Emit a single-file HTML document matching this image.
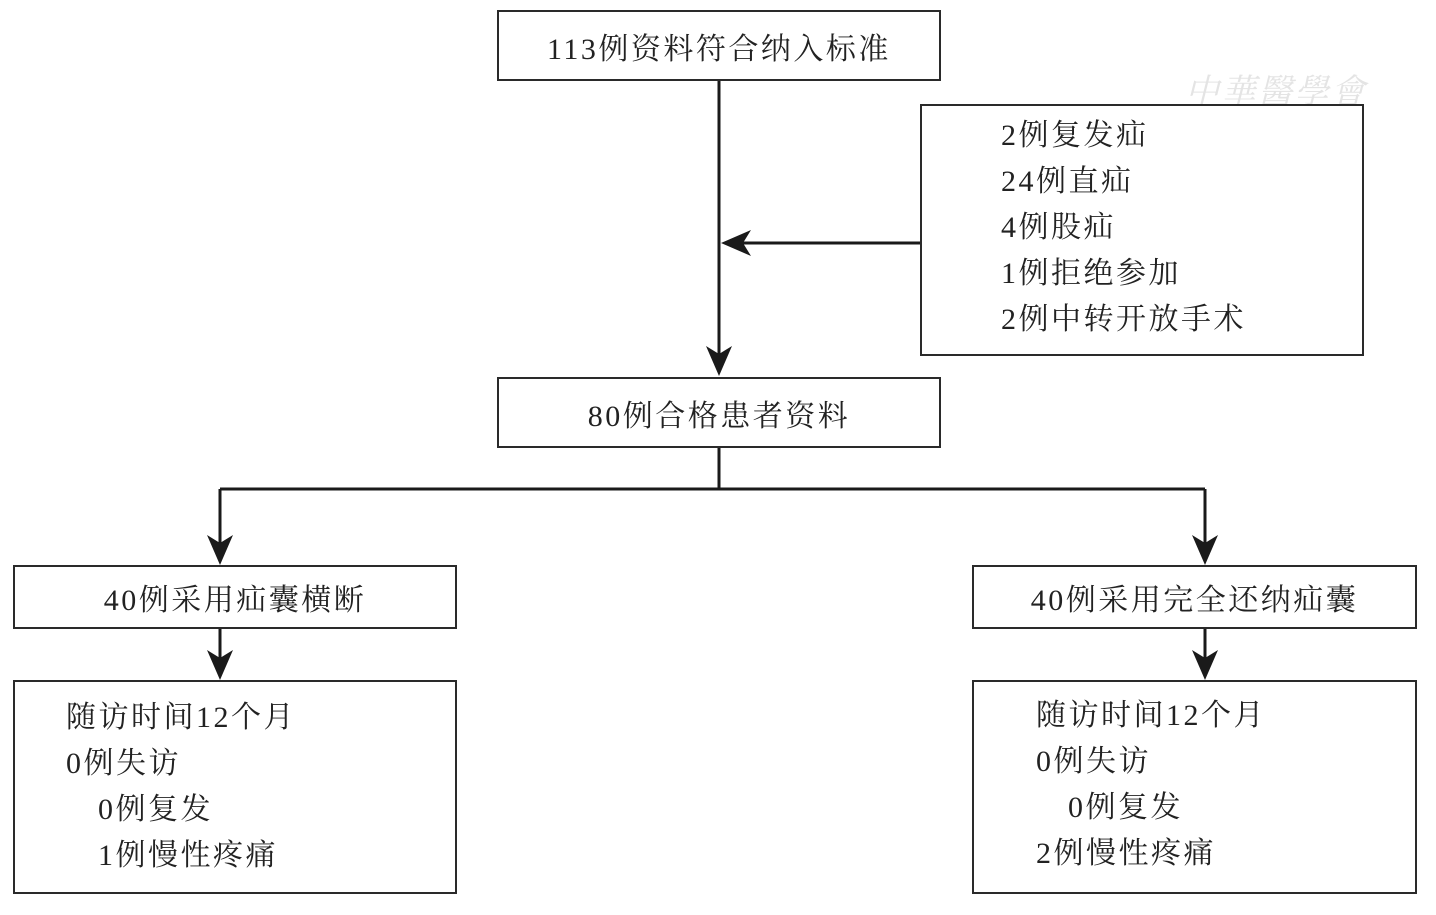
<!DOCTYPE html>
<html><head><meta charset="utf-8"><style>
body{margin:0;width:1436px;height:915px;background:#fff;position:relative;overflow:hidden;font-family:"Liberation Serif","Noto Serif CJK SC",serif;color:#222}
.b{position:absolute;border:2.5px solid #2a2a2a;box-sizing:border-box}
.c{display:flex;align-items:center;justify-content:center;font-size:30px;letter-spacing:2.5px}
.t{position:absolute;font-size:30px;letter-spacing:2.5px;white-space:nowrap;line-height:1}
</style></head><body>
<svg width="1436" height="915" style="position:absolute;left:0;top:0">
<defs><path id="ad" d="M0,0 L-13,-30 L0,-22 L13,-30 Z" fill="#1a1a1a"/></defs>
<g stroke="#1a1a1a" stroke-width="3" fill="none">
<line x1="719" y1="80" x2="719" y2="360"/>
<line x1="920" y1="243" x2="735" y2="243"/>
<line x1="719" y1="447" x2="719" y2="489"/>
<line x1="220" y1="489" x2="1205" y2="489"/>
<line x1="220" y1="489" x2="220" y2="550"/>
<line x1="1205" y1="489" x2="1205" y2="550"/>
<line x1="220" y1="628" x2="220" y2="665"/>
<line x1="1205" y1="628" x2="1205" y2="665"/>
</g>
<use href="#ad" transform="translate(719,376)"/>
<use href="#ad" transform="translate(721,243) rotate(90)"/>
<use href="#ad" transform="translate(220,565)"/>
<use href="#ad" transform="translate(1205,565)"/>
<use href="#ad" transform="translate(220,680)"/>
<use href="#ad" transform="translate(1205,680)"/>
</svg>
<div class="t" style="left:1185px;top:76px;color:#e4e4e4;font-size:34px;font-style:italic">中華醫學會</div>
<div class="b c" style="left:497px;top:10px;width:444px;height:71px">113例资料符合纳入标准</div>
<div class="b" style="left:920px;top:104px;width:444px;height:252px"></div>
<div class="t" style="left:1001px;top:121px">2例复发疝</div>
<div class="t" style="left:1001px;top:167px">24例直疝</div>
<div class="t" style="left:1001px;top:213px">4例股疝</div>
<div class="t" style="left:1001px;top:259px">1例拒绝参加</div>
<div class="t" style="left:1001px;top:305px">2例中转开放手术</div>
<div class="b c" style="left:497px;top:377px;width:444px;height:71px">80例合格患者资料</div>
<div class="b c" style="left:13px;top:565px;width:444px;height:64px">40例采用疝囊横断</div>
<div class="b c" style="left:972px;top:565px;width:445px;height:64px">40例采用完全还纳疝囊</div>
<div class="b" style="left:13px;top:680px;width:444px;height:214px"></div>
<div class="t" style="left:66px;top:703px">随访时间12个月</div>
<div class="t" style="left:66px;top:749px">0例失访</div>
<div class="t" style="left:98px;top:795px">0例复发</div>
<div class="t" style="left:98px;top:841px">1例慢性疼痛</div>
<div class="b" style="left:972px;top:680px;width:445px;height:214px"></div>
<div class="t" style="left:1036px;top:701px">随访时间12个月</div>
<div class="t" style="left:1036px;top:747px">0例失访</div>
<div class="t" style="left:1068px;top:793px">0例复发</div>
<div class="t" style="left:1036px;top:839px">2例慢性疼痛</div>
</body></html>
